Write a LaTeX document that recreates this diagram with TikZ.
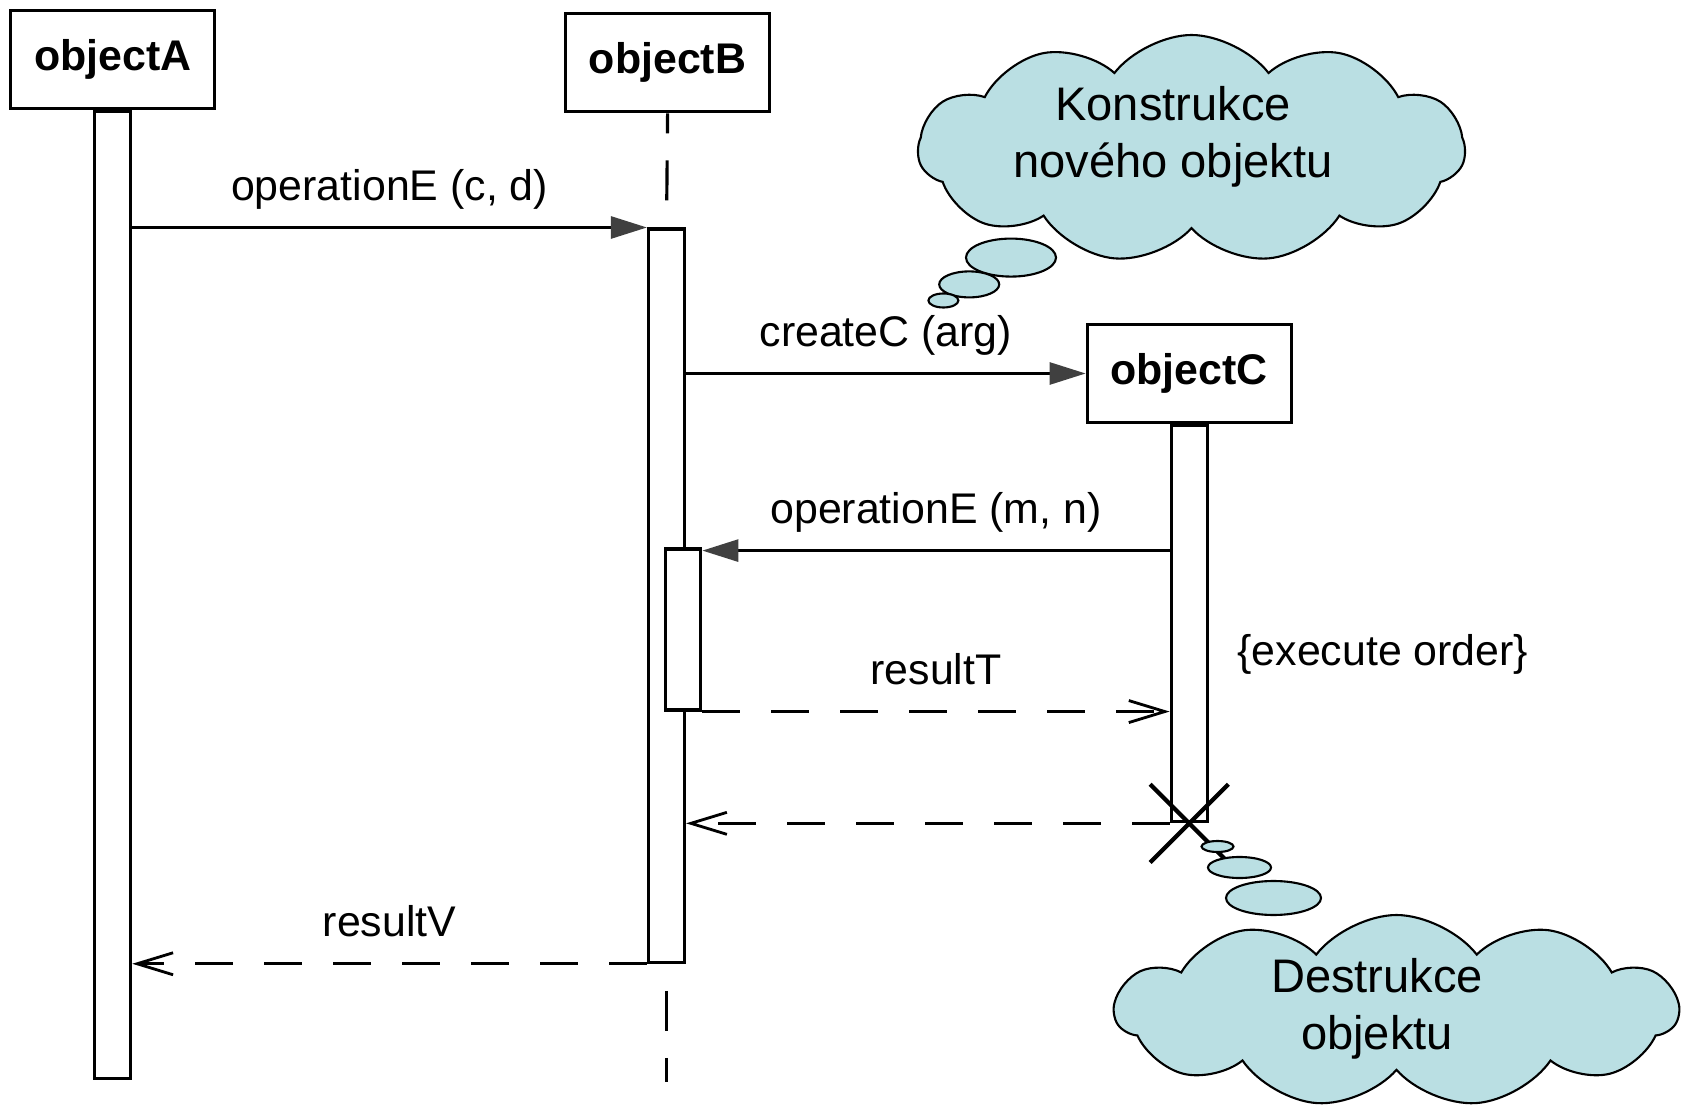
\documentclass[tikz,border=0pt]{standalone}
\usepackage{fontspec}
\setmainfont{Liberation Sans}
\usetikzlibrary{arrows.meta,calc,shapes.symbols,shapes.misc}
\definecolor{cloudcyan}{RGB}{186,223,227}

\begin{document}
\begin{tikzpicture}[
  objbox/.style={draw, line width=0.9pt, minimum width=2.04cm, minimum height=0.98cm,
    inner sep=0pt, font=\bfseries\fontsize{12.2}{14.6}\selectfont},
  actbar/.style={draw, fill=white, line width=0.9pt, minimum width=0.36cm, inner sep=0pt, anchor=north},
  lifeline/.style={line width=0.9pt, dash pattern=on 4mm off 2.7mm},
  call/.style={line width=0.8pt, -{Triangle[length=3.6mm,width=2.2mm,color=black!75]}},
  reply/.style={line width=0.8pt, dash pattern=on 3.8mm off 3.1mm, -{Straight Barb[length=3.6mm,width=2.2mm]}},
  msglabel/.style={midway, anchor=base, yshift=2.7mm, font=\fontsize{12.2}{14.6}\selectfont},
  thought/.style={cloud, cloud puffs=11, cloud puff arc=105, cloud ignores aspect,
    draw, line width=0.6pt, fill=cloudcyan, inner sep=0pt},
  thoughttext/.style={align=center, font=\fontsize{13.4}{16.2}\selectfont},
  bubble/.style={draw, line width=0.6pt, fill=cloudcyan}
]
			%%%%% START %%%%%
			\useasboundingbox (0,0) rectangle (16.83,11.08);
			
			% objects
			\node[objbox] (objA) at (1.127, 10.484) {objectA};
			\node[objbox] (objB) at (6.676, 10.452) {objectB};
			\node[objbox] (objC) at (11.892, 7.345) {objectC};
			
			% activations
			\node[actbar, minimum height=9.666cm] (barA) at (objA.south) {};
			\node[actbar, minimum height=7.331cm] (barB) at (6.665, 8.805) {};
			\node[actbar, minimum height=3.961cm] (barC) at (objC.south) {};
			\node[actbar, minimum width=0.355cm, minimum height=1.61cm] (barB2) at (6.83, 5.606) {};
			
			% lifeline of objectB
			\coordinate (endB) at (6.665, 0.26);
			\draw[lifeline, dash phase=2mm] (objB.south) -- (barB.north);
			\draw[lifeline, dash phase=4mm] (barB.south) -- (endB);
			
			% messages
			\draw[call] (barA.east |- barB.north west) -- (barB.north west) node[msglabel] {operationE (c, d)};
			\draw[call] (barB.east |- objC.west) -- (objC.west) node[msglabel] {createC (arg)};
			\coordinate (lvlM) at (0, 5.574);
			\draw[call] (barC.west |- lvlM) -- (barB2.east |- lvlM) node[msglabel] {operationE (m, n)};
			\draw[reply] (barB2.south east) -- (barC.west |- barB2.south east) node[msglabel] {resultT};
			\draw[reply] (barC.south west) -- (barB.east |- barC.south west);
			\draw[reply] (barB.south west) -- (barA.east |- barB.south west) node[msglabel] {resultV};
			
			\node[font=\fontsize{12.2}{14.6}\selectfont, anchor=base west] (order) at (12.25, 4.43) {\{execute order\}};
			
			% destruction
			\node[cross out, draw, line width=1.2pt, minimum size=0.74cm, inner sep=0pt] (killC) at (barC.south) {};
			
			% thought clouds
			\node[thought, minimum width=5.47cm, minimum height=2.28cm] (cloudK) at (11.915, 9.59) {};
			\node[thoughttext] (textK) at (11.73, 9.715) {Konstrukce\\nového objektu};
			\draw[bubble] (10.11, 8.504) ellipse (0.45 and 0.19);
			\draw[bubble] (9.692, 8.236) ellipse (0.30 and 0.13);
			\draw[bubble] (9.434, 8.075) ellipse (0.15 and 0.07);
			
			\node[thought, minimum width=5.63cm, minimum height=1.92cm] (cloudD) at (13.965, 0.97) {};
			\node[thoughttext] (textD) at (13.77, 0.99) {Destrukce\\objektu};
			\draw[bubble] (12.175, 2.615) ellipse (0.16 and 0.055);
			\draw[bubble] (12.395, 2.405) ellipse (0.315 and 0.105);
			\draw[bubble] (12.735, 2.10) ellipse (0.475 and 0.17);
			
			%%%%% END %%%%%
\end{tikzpicture}
\end{document}
